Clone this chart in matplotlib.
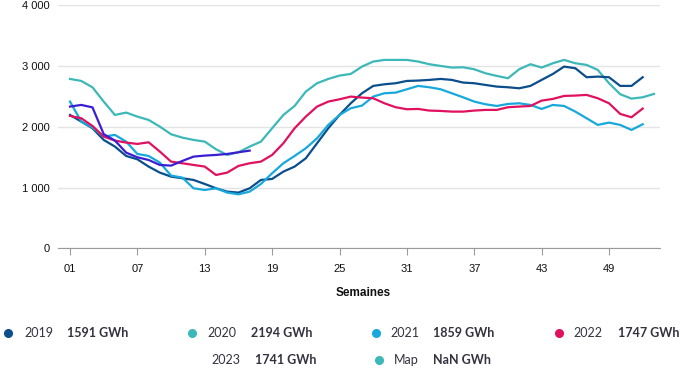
import matplotlib
matplotlib.use("Agg")
import matplotlib.pyplot as plt
import numpy as np

# ---- data ----
weeks_full = list(range(1, 54))      # 53 weeks
weeks_52 = list(range(1, 53))
weeks_2023 = list(range(1, 18))

s2019 = [2195, 2086, 1976, 1784, 1674, 1520, 1465, 1345, 1246, 1180, 1153, 1125, 1059,
         988, 933, 917, 988, 1125, 1142, 1262, 1345, 1482, 1729, 1976, 2195,
         2387, 2552, 2673, 2700, 2717, 2755, 2761, 2772, 2788, 2772, 2728, 2717,
         2689, 2662, 2651, 2634, 2673, 2772, 2870, 2991, 2964, 2816, 2826, 2816,
         2673, 2673, 2816]
s2020 = [2788, 2755, 2650, 2415, 2195, 2234, 2168, 2113, 2003, 1877, 1822, 1784, 1756,
         1630, 1537, 1581, 1674, 1756, 1976, 2195, 2343, 2580, 2717, 2788, 2843,
         2870, 2991, 3074, 3101, 3101, 3101, 3074, 3030, 3002, 2975, 2980, 2947,
         2881, 2838, 2799, 2947, 3030, 2975, 3046, 3101, 3046, 3019, 2936, 2717,
         2536, 2464, 2486, 2541]
s2021 = [2415, 2086, 1987, 1839, 1866, 1756, 1553, 1520, 1411, 1197, 1164, 988, 960,
         988, 917, 889, 933, 1059, 1235, 1400, 1520, 1647, 1811, 2031, 2195,
         2305, 2349, 2497, 2552, 2563, 2618, 2673, 2651, 2618, 2552, 2486, 2415,
         2371, 2343, 2376, 2387, 2360, 2294, 2360, 2343, 2250, 2141, 2031, 2069,
         2031, 1948, 2042]
s2022 = [2179, 2141, 2014, 1839, 1773, 1740, 1718, 1745, 1592, 1427, 1400, 1372, 1345,
         1207, 1246, 1356, 1400, 1427, 1537, 1729, 1976, 2168, 2333, 2415, 2453,
         2497, 2481, 2470, 2387, 2322, 2289, 2294, 2267, 2261, 2250, 2250, 2267,
         2278, 2278, 2322, 2333, 2343, 2431, 2459, 2508, 2514, 2525, 2470, 2387,
         2212, 2157, 2300]
s2023 = [2333, 2360, 2320, 1880, 1773, 1575, 1498, 1454, 1372, 1361, 1438, 1509, 1526,
         1537, 1553, 1581, 1608]

x_ticks = [1, 7, 13, 19, 25, 31, 37, 43, 49]
x_tick_labels = ["01", "07", "13", "19", "25", "31", "37", "43", "49"]
y_ticks = [0, 1000, 2000, 3000, 4000]
y_tick_labels = ["0", "1 000", "2 000", "3 000", "4 000"]

legend_names = ["2019", "2020", "2021", "2022", "2023", "Map"]
legend_values = ["1591 GWh", "2194 GWh", "1859 GWh", "1747 GWh", "1741 GWh", "NaN GWh"]

c2019 = "#0b4e8c"
c2020 = "#3cb8b8"
c2021 = "#17a8dc"
c2022 = "#e0115f"
c2023 = "#3a1fd2"
cmap_ = "#3cb8b8"

W, H = 681, 376
fig = plt.figure(figsize=(W / 100, H / 100), dpi=100)
ax = fig.add_axes([58 / W, 1 - 248.3 / H, (660 - 58) / W, (248.3 - 5.3) / H])

lw = 1.6
ax.plot(weeks_full, s2020, color=c2020, lw=lw, zorder=3)
ax.plot(weeks_52, s2019, color=c2019, lw=lw, zorder=4)
ax.plot(weeks_52, s2021, color=c2021, lw=lw, zorder=4)
ax.plot(weeks_52, s2022, color=c2022, lw=lw, zorder=4)
ax.plot(weeks_2023, s2023, color=c2023, lw=lw, zorder=5)

ax.set_xlim(-0.07, 53.54)
ax.set_ylim(0, 4000)

ax.set_yticks(y_ticks)
ax.set_yticklabels(y_tick_labels)
ax.set_xticks(x_ticks)
ax.set_xticklabels(x_tick_labels)
ax.grid(axis="y", color="#e4e4e4", lw=1)
ax.set_axisbelow(True)
for s in ["top", "right", "left"]:
    ax.spines[s].set_visible(False)
ax.spines["bottom"].set_color("#9a9a9a")
ax.tick_params(axis="y", length=0, pad=6, labelsize=8, labelcolor="#111111")
ax.tick_params(axis="x", length=5, color="#9a9a9a", pad=6, labelsize=8, labelcolor="#111111")
for lab in ax.get_xticklabels() + ax.get_yticklabels():
    lab.set_family("Liberation Sans")

fig.text(363 / W, 1 - 293 / H, "Semaines", ha="center", va="center",
         fontsize=8.5, fontweight="bold", family="Liberation Sans", color="#111111")

# legend
leg_colors = [c2019, c2020, c2021, c2022, None, cmap_]
marker_x = [8, 191.5, 376, 559, None, 379]
name_x = [24, 207, 390, 573, 211.5, 394]
val_x = [67, 250.6, 433, 617.5, 255, 433]
row_y = [333, 333, 333, 333, 360, 360]
for i in range(len(legend_names)):
    yy = 1 - row_y[i] / H
    if leg_colors[i] is not None:
        fig.add_artist(plt.Line2D([marker_x[i] / W], [yy], marker="o", markersize=5.5,
                                  color=leg_colors[i], linestyle="none"))
    fig.text(name_x[i] / W, yy, legend_names[i], ha="left", va="center",
             fontsize=9, family="Lato", color="#333340")
    fig.text(val_x[i] / W, yy, legend_values[i], ha="left", va="center",
             fontsize=9, family="Lato", fontweight="bold", color="#333340")

fig.savefig("out.png", dpi=100)
